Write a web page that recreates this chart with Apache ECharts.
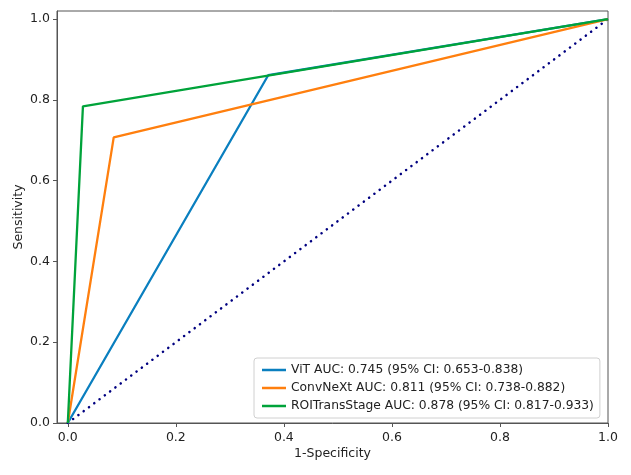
<!DOCTYPE html>
<html>
<head>
<meta charset="utf-8">
<script src="https://cdn.jsdelivr.net/npm/echarts@6/dist/echarts.min.js"></script>
<style>
  html, body { margin: 0; padding: 0; background: #fff; }
  #chart { width: 631px; height: 475px; }
</style>
</head>
<body>
<div id="chart"></div>
<script>
// ROC points: [1-specificity, sensitivity]
const seriesNames = [
  "ViT AUC: 0.745 (95% CI: 0.653-0.838)",
  "ConvNeXt AUC: 0.811 (95% CI: 0.738-0.882)",
  "ROITransStage AUC: 0.878 (95% CI: 0.817-0.933)",
];
const vitRoc = [[0, 0], [0.371, 0.861], [1, 1]];
const convnextRoc = [[0, 0], [0.085, 0.707], [1, 1]];
const roiRoc = [[0, 0], [0.028, 0.784], [1, 1]];
const chanceLine = [[0, 0], [1, 1]];
const tickValues = [0, 0.2, 0.4, 0.6, 0.8, 1.0];

const colors = ["#0a7fbf", "#ff7f0e", "#00a33a"];
const font = "DejaVu Sans";

const chart = echarts.init(document.getElementById("chart"), null, { renderer: "canvas" });

const axisCommon = {
  type: "value",
  splitLine: { show: false },
  axisLine: { show: true, onZero: false, lineStyle: { color: "#555", width: 1 } },
  axisTick: {
    show: true, inside: false, length: 4,
    customValues: tickValues,
    lineStyle: { color: "#555" },
  },
  axisLabel: {
    customValues: tickValues,
    color: "#222", fontFamily: font, fontSize: 12.5,
    formatter: (v) => v.toFixed(1),
  },
  nameLocation: "middle",
  nameMoveOverlap: false,
  nameTextStyle: { color: "#222", fontFamily: font, fontSize: 12.5 },
};

chart.setOption({
  animation: false,
  backgroundColor: "#fff",
  grid: {
    left: 57, right: 23, top: 11, bottom: 52, outerBoundsMode: "none",
    show: true, borderColor: "#555", borderWidth: 1,
  },
  xAxis: Object.assign({}, axisCommon, {
    min: -0.02, max: 1.0, name: "1-Specificity", nameGap: 24,
    axisLabel: Object.assign({}, axisCommon.axisLabel, { margin: 8 }),
  }),
  yAxis: Object.assign({}, axisCommon, {
    min: 0, max: 1.02, name: "Sensitivity", nameGap: 32,
    axisLabel: Object.assign({}, axisCommon.axisLabel, { margin: 7 }),
  }),
  legend: {
    data: seriesNames,
    orient: "vertical",
    left: 254, top: 358,
    icon: "rect", itemWidth: 24, itemHeight: 2.5, itemGap: 4,
    padding: [5, 6, 5, 8],
    borderColor: "#d0d0d0", borderWidth: 1, borderRadius: 3,
    backgroundColor: "rgba(255,255,255,0.85)",
    textStyle: { color: "#222", fontFamily: font, fontSize: 12.3, lineHeight: 14 },
  },
  series: [
    {
      name: "chance", type: "line", data: chanceLine, showSymbol: false, silent: true,
      lineStyle: { color: "#000080", width: 2.5, type: [0.1, 6.5], cap: "round" }, z: 1,
    },
    {
      name: seriesNames[0], type: "line", data: vitRoc, showSymbol: false,
      color: colors[0], lineStyle: { width: 2.3 }, z: 2,
    },
    {
      name: seriesNames[1], type: "line", data: convnextRoc, showSymbol: false,
      color: colors[1], lineStyle: { width: 2.3 }, z: 3,
    },
    {
      name: seriesNames[2], type: "line", data: roiRoc, showSymbol: false,
      color: colors[2], lineStyle: { width: 2.3 }, z: 4,
    },
  ],
});
</script>
</body>
</html>
